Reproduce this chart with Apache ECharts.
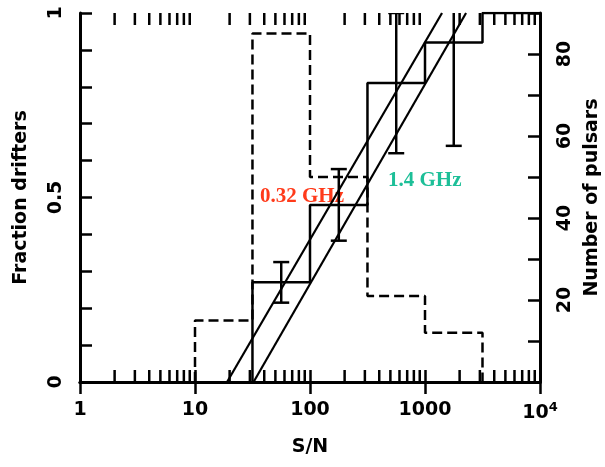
<!DOCTYPE html>
<html><head><meta charset="utf-8">
<script src="https://cdn.jsdelivr.net/npm/echarts@6/dist/echarts.min.js"></script>
<style>html,body{margin:0;padding:0;background:#fff}#c{width:605px;height:467px}</style>
</head><body><div id="c"></div>
<script>
// ---- data ----
const binEdges = [10, 31.6, 100, 316, 1000, 3162];        // S/N bin edges (count histogram)
const pulsarCounts = [15, 85, 50, 21, 12];                // number of pulsars per bin (right axis)
const fracEdges = [31.6, 100, 316, 1000, 3162, 10000];    // S/N bin edges (fraction histogram)
const driftFraction = [0.27, 0.48, 0.81, 0.92, 1.0];      // fraction of drifters per bin
const errCenters = [56.2, 178, 562, 1778];                // error-bar S/N positions
const errFraction = [0.27, 0.48, 0.81, 0.92];
const errSize = [0.055, 0.097, 0.19, 0.28];
const fit032 = [[19, 0], [1406, 1]];                       // 0.32 GHz line
const fit14 = [[32.3, 0], [2275, 1]];                      // 1.4 GHz line
const xTickLabels = {1: '1', 10: '10', 100: '100', 1000: '1000', 10000: '10{sup|4}'};
const leftTickLabels = ['0', '0.5', '1'];
const rightTickLabels = [20, 40, 60, 80];
const minorMultipliers = [2, 3, 4, 5, 6, 7, 8, 9];
const decades = [1, 10, 100, 1000];

// ---- build series data ----
function stepPath(edges, vals, closeToZero) {
  const pts = [[edges[0], 0]];
  for (let i = 0; i < vals.length; i++) {
    pts.push([edges[i], vals[i]]);
    pts.push([edges[i + 1], vals[i]]);
  }
  if (closeToZero) pts.push([edges[edges.length - 1], 0]);
  return pts;
}
const countPath = stepPath(binEdges, pulsarCounts, true);
const fracPath = stepPath(fracEdges, driftFraction, false);
const errData = errCenters.map((x, i) => [x, errFraction[i], errSize[i]]);
const minorTicks = [];
decades.forEach(d => minorMultipliers.forEach(m => minorTicks.push([d * m])));

const FONT = 'DejaVu Sans';
const FS = 19;
const black = '#000';
const axisLine = {show: true, lineStyle: {color: black, width: 3}};
const tickStyle = {color: black, width: 2.5};
const txt = {color: black, fontFamily: FONT, fontSize: FS, fontWeight: 'bold'};

const chart = echarts.init(document.getElementById('c'), null, {renderer: 'canvas'});
chart.setOption({
  backgroundColor: '#fff',
  animation: false,
  grid: {left: 80, right: 65, top: 13, bottom: 85, containLabel: false, outerBoundsMode: 'none'},
  xAxis: [{
    type: 'log', logBase: 10, min: 1, max: 10000, position: 'bottom',
    axisLine: axisLine,
    axisTick: {show: true, inside: true, length: 12, lineStyle: tickStyle},
    axisLabel: Object.assign({}, txt, {
      margin: 19,
      formatter: v => xTickLabels[Math.round(v)] || '',
      rich: {sup: {fontSize: 13, fontWeight: 'bold', verticalAlign: 'top', padding: [0, 0, 12, 0], fontFamily: FONT, color: black}}
    }),
    splitLine: {show: false}, minorTick: {show: false},
    name: 'S/N', nameLocation: 'middle', nameGap: 56,
    nameTextStyle: txt
  }, {
    type: 'log', logBase: 10, min: 1, max: 10000, position: 'top',
    axisLine: axisLine,
    axisTick: {show: true, inside: true, length: 12, lineStyle: tickStyle},
    axisLabel: {show: false}, splitLine: {show: false}
  }],
  yAxis: [{
    type: 'value', min: 0, max: 1, interval: 0.1, position: 'left',
    axisLine: axisLine,
    axisTick: {show: true, inside: true, length: 12, lineStyle: tickStyle},
    axisLabel: Object.assign({}, txt, {
      rotate: 90, margin: 14,
      formatter: v => {
        if (Math.abs(v) < 1e-6) return leftTickLabels[0];
        if (Math.abs(v - 0.5) < 1e-6) return leftTickLabels[1];
        if (Math.abs(v - 1) < 1e-6) return leftTickLabels[2];
        return '';
      }
    }),
    splitLine: {show: false},
    name: 'Fraction drifters', nameLocation: 'middle', nameRotate: 90, nameGap: 49,
    nameTextStyle: txt
  }, {
    type: 'value', min: 0, max: 90, interval: 10, position: 'right',
    axisLine: axisLine,
    axisTick: {show: true, inside: true, length: 12, lineStyle: tickStyle},
    axisLabel: Object.assign({}, txt, {
      rotate: 90, margin: 16,
      formatter: v => rightTickLabels.indexOf(Math.round(v)) >= 0 ? String(Math.round(v)) : ''
    }),
    splitLine: {show: false},
    name: 'Number of pulsars', nameLocation: 'middle', nameRotate: 90, nameGap: 32,
    nameTextStyle: txt
  }],
  series: [
    {
      type: 'custom', xAxisIndex: 0, yAxisIndex: 0, silent: true,
      data: minorTicks,
      renderItem: (params, api) => {
        const v = api.value(0);
        const b = api.coord([v, 0]);
        const t = api.coord([v, 1]);
        const st = {stroke: black, lineWidth: 2.5};
        return {type: 'group', children: [
          {type: 'line', shape: {x1: b[0], y1: b[1], x2: b[0], y2: b[1] - 12}, style: st},
          {type: 'line', shape: {x1: t[0], y1: t[1], x2: t[0], y2: t[1] + 12}, style: st}
        ]};
      }
    },
    {
      type: 'line', xAxisIndex: 0, yAxisIndex: 1, data: countPath, symbol: 'none',
      lineStyle: {color: black, width: 2.5, type: [10, 5]}, z: 3
    },
    {
      type: 'line', xAxisIndex: 0, yAxisIndex: 0, data: fracPath, symbol: 'none',
      lineStyle: {color: black, width: 2.5}, z: 4
    },
    {
      type: 'line', xAxisIndex: 0, yAxisIndex: 0, data: fit032, symbol: 'none',
      lineStyle: {color: black, width: 2.2}, z: 4
    },
    {
      type: 'line', xAxisIndex: 0, yAxisIndex: 0, data: fit14, symbol: 'none',
      lineStyle: {color: black, width: 2.2}, z: 4
    },
    {
      type: 'custom', xAxisIndex: 0, yAxisIndex: 0, clip: true, z: 5,
      data: errData,
      renderItem: (params, api) => {
        const x = api.value(0), y = api.value(1), e = api.value(2);
        const lo = api.coord([x, y - e]);
        const hi = api.coord([x, y + e]);
        const st = {stroke: black, lineWidth: 2.5};
        const w = 8;
        return {type: 'group', children: [
          {type: 'line', shape: {x1: lo[0], y1: lo[1], x2: hi[0], y2: hi[1]}, style: st},
          {type: 'line', shape: {x1: lo[0] - w, y1: lo[1], x2: lo[0] + w, y2: lo[1]}, style: st},
          {type: 'line', shape: {x1: hi[0] - w, y1: hi[1], x2: hi[0] + w, y2: hi[1]}, style: st}
        ]};
      }
    }
  ],
  graphic: [
    {type: 'text', left: 260, top: 186, style: {text: '0.32 GHz', fill: '#ff3a1a', font: 'bold 21px "Liberation Serif"'}},
    {type: 'text', left: 388, top: 170, style: {text: '1.4 GHz', fill: '#1dbf98', font: 'bold 21px "Liberation Serif"'}}
  ]
});
</script>
</body></html>
